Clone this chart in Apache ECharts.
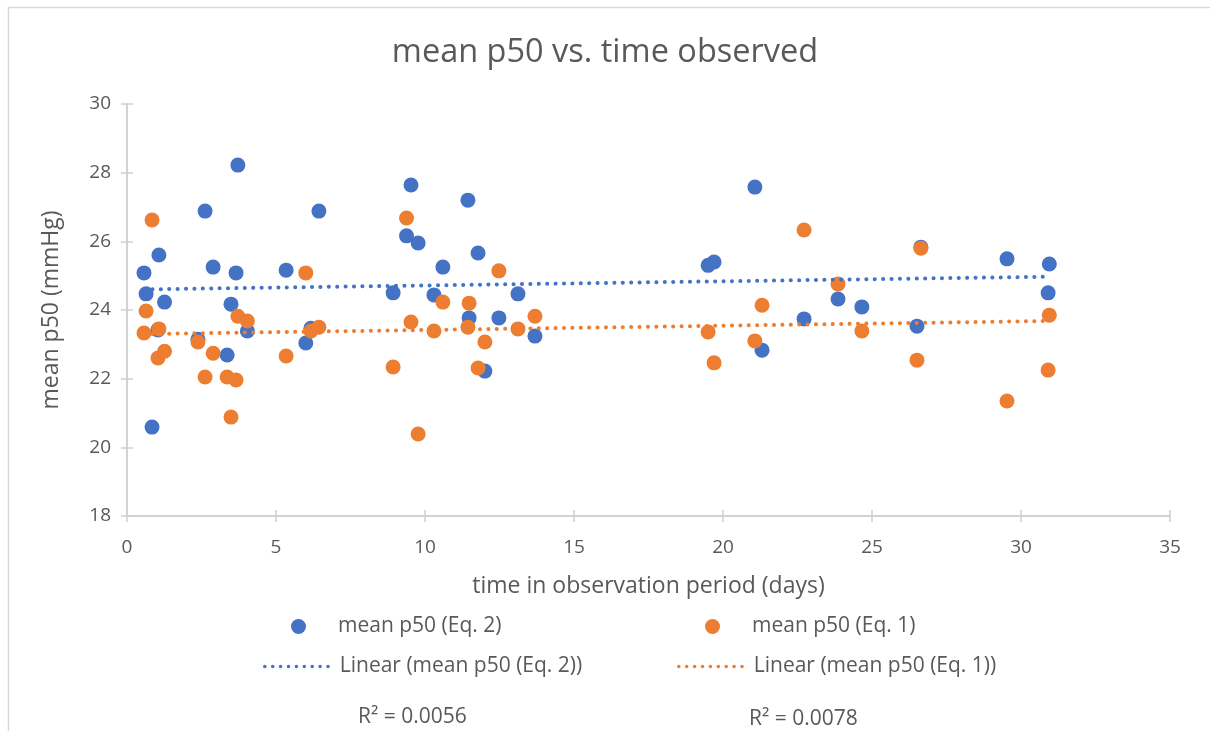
<!DOCTYPE html>
<html>
<head>
<meta charset="utf-8">
<script src="https://cdn.jsdelivr.net/npm/echarts@6/dist/echarts.min.js"></script>
<style>
  html, body { margin: 0; padding: 0; background: #fff; }
  #chart { width: 1210px; height: 731px; }
</style>
</head>
<body>
<div id="chart"></div>
<script>
// observation time (days) and the two p50 estimates
const days = [0.57, 0.64, 0.84, 1.04, 1.07, 1.26, 2.38, 2.62, 2.89, 3.36, 3.49, 3.66, 3.72, 4.04,
  5.34, 6.0, 6.17, 6.44, 8.93, 9.38, 9.53, 9.77, 10.3, 10.6, 11.44, 11.48, 11.78, 12.01, 12.48,
  13.12, 13.69, 19.5, 19.7, 21.07, 21.31, 22.72, 23.86, 24.66, 26.51, 26.64, 29.53, 30.91, 30.95]
const eq2 = [25.08, 24.47, 20.59, 23.42, 25.6, 24.23, 23.15, 26.88, 25.25, 22.69, 24.17, 25.08, 28.22, 23.39,
  25.16, 23.04, 23.47, 26.88, 24.5, 26.16, 27.64, 25.95, 24.44, 25.25, 27.2, 23.77, 25.66, 22.22, 23.77,
  24.47, 23.24, 25.3, 25.4, 27.58, 22.83, 23.74, 24.32, 24.09, 23.53, 25.83, 25.49, 24.5, 25.34]
const eq1 = [23.33, 23.97, 26.62, 22.6, 23.45, 22.8, 23.07, 22.05, 22.74, 22.05, 20.88, 21.96, 23.82, 23.68,
  22.66, 25.08, 23.39, 23.5, 22.34, 26.68, 23.65, 20.39, 23.39, 24.23, 23.5, 24.2, 22.31, 23.07, 25.14,
  23.45, 23.82, 23.36, 22.46, 23.1, 24.14, 26.33, 24.76, 23.39, 22.54, 25.8, 21.35, 22.25, 23.85]

// trendline end points as drawn
const trendDays = [0.57, 30.95]
const trendEq2 = [24.6, 24.97]
const trendEq1 = [23.3, 23.68]

const r2Labels = ['R² = 0.0056', 'R² = 0.0078']
const names = ['mean p50 (Eq. 2)', 'mean p50 (Eq. 1)', 'Linear (mean p50 (Eq. 2))', 'Linear (mean p50 (Eq. 1))']

const BLUE = '#4472C4'
const ORANGE = '#ED7D31'
const TEXT = '#595959'
const AXIS = '#d0d0d0'
const FONT = 'Open Sans'

const chart = echarts.init(document.getElementById('chart'))

function pairs(xs, ys) {
  return xs.map((x, i) => [x, ys[i]])
}

const trendLine = (color) => ({
  color: color, width: 4, type: [0.1, 8.3], cap: 'round',
})

// scatter legend: dot then a gap before the text
function dotLegend(name, left, top) {
  return {
    data: [name],
    left: left,
    top: top,
    itemWidth: 15,
    itemHeight: 15,
    textStyle: { color: TEXT, fontSize: 21, fontFamily: FONT, padding: [0, 0, 0, 27] },
    selectedMode: false,
  }
}

// trendline legend: dotted line only, hide the symbol
function lineLegend(name, left, top, color) {
  return {
    data: [name],
    left: left,
    top: top,
    itemWidth: 70,
    itemHeight: 14,
    itemStyle: { opacity: 0 },
    lineStyle: { color: color, width: 3.5, type: [0.1, 7.8], cap: 'round' },
    textStyle: { color: TEXT, fontSize: 21, fontFamily: FONT },
    selectedMode: false,
  }
}

const xBase = {
  type: 'value', min: 0, max: 35, interval: 5,
  axisLine: { lineStyle: { color: AXIS, width: 1.5 } },
  splitLine: { show: false },
}
const yBase = {
  type: 'value', min: 18, max: 30, interval: 2,
  axisLine: { lineStyle: { color: AXIS, width: 1.5 } },
  splitLine: { show: false },
}

const option = {
  backgroundColor: '#fff',
  animation: false,
  title: {
    text: 'mean p50 vs. time observed',
    left: 'center',
    top: 31,
    textStyle: { color: TEXT, fontSize: 32.5, fontWeight: 'normal', fontFamily: FONT },
  },
  grid: { left: 127, right: 40, top: 104, bottom: 215 },
  xAxis: [
    {
      ...xBase,
      name: 'time in observation period (days)',
      nameLocation: 'middle',
      nameGap: 59,
      nameTextStyle: { color: TEXT, fontSize: 23, fontFamily: FONT },
      axisTick: { show: true, length: 6, lineStyle: { color: AXIS, width: 1.5 } },
      axisLabel: { color: TEXT, fontSize: 19, fontFamily: FONT, margin: 22 },
    },
    {
      ...xBase,
      position: 'bottom',
      offset: 0,
      axisTick: { show: true, inside: true, length: 6, lineStyle: { color: AXIS, width: 1.5 } },
      axisLabel: { show: false },
    },
  ],
  yAxis: [
    {
      ...yBase,
      name: 'mean p50 (mmHg)',
      nameLocation: 'middle',
      nameGap: 64,
      nameTextStyle: { color: TEXT, fontSize: 23, fontFamily: FONT },
      axisTick: { show: true, length: 6, lineStyle: { color: AXIS, width: 1.5 } },
      axisLabel: { color: TEXT, fontSize: 19, fontFamily: FONT, margin: 16 },
    },
    {
      ...yBase,
      position: 'left',
      offset: 0,
      axisTick: { show: true, inside: true, length: 6, lineStyle: { color: AXIS, width: 1.5 } },
      axisLabel: { show: false },
    },
  ],
  legend: [
    dotLegend(names[0], 286, 611),
    dotLegend(names[1], 700, 611),
    lineLegend(names[2], 258, 651, BLUE),
    lineLegend(names[3], 672, 651, ORANGE),
  ],
  graphic: [
    {
      type: 'rect', silent: true,
      shape: { x: 8.5, y: 7.5, width: 1300, height: 800 },
      style: { fill: 'none', stroke: '#d9d9d9', lineWidth: 1.5 },
    },
    {
      type: 'text', left: 358, top: 707,
      style: { text: r2Labels[0], fill: TEXT, fontSize: 21, fontFamily: FONT },
    },
    {
      type: 'text', left: 749, top: 709,
      style: { text: r2Labels[1], fill: TEXT, fontSize: 21, fontFamily: FONT },
    },
  ],
  series: [
    {
      name: names[0], type: 'scatter', symbolSize: 15,
      itemStyle: { color: BLUE, opacity: 1 },
      data: pairs(days, eq2), z: 2,
    },
    {
      name: names[1], type: 'scatter', symbolSize: 15,
      itemStyle: { color: ORANGE, opacity: 1 },
      data: pairs(days, eq1), z: 3,
    },
    {
      name: names[2], type: 'line', symbol: 'none', z: 4,
      itemStyle: { color: BLUE },
      lineStyle: trendLine(BLUE),
      data: pairs(trendDays, trendEq2),
    },
    {
      name: names[3], type: 'line', symbol: 'none', z: 4,
      itemStyle: { color: ORANGE },
      lineStyle: trendLine(ORANGE),
      data: pairs(trendDays, trendEq1),
    },
  ],
}

chart.setOption(option)
</script>
</body>
</html>
